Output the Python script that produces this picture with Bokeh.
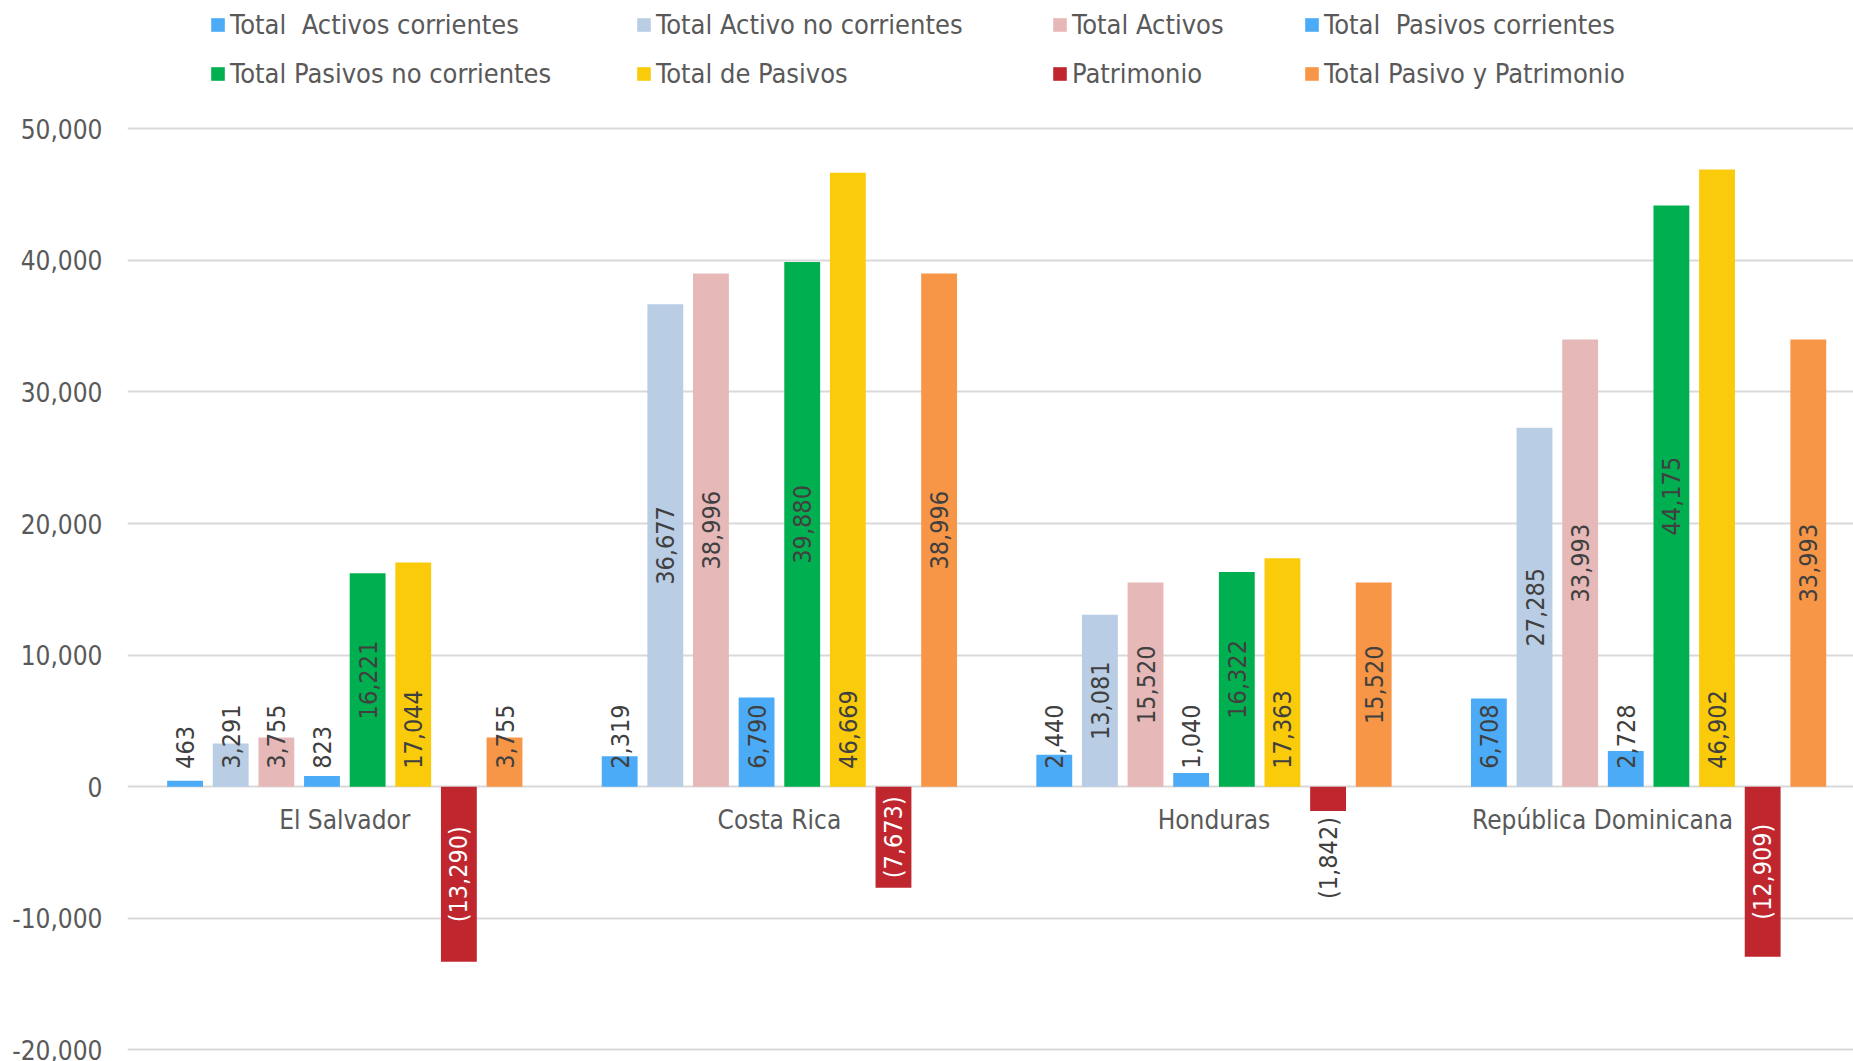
import math
from bokeh.plotting import figure
from bokeh.models import (Range1d, FixedTicker, NumeralTickFormatter, Legend,
                          LegendItem, ColumnDataSource)
from bokeh.core.properties import value
from bokeh.embed import file_html
from bokeh.resources import INLINE

# ---------------- data ----------------
countries = ["El Salvador", "Costa Rica", "Honduras", "República Dominicana"]
series_names = ["Total  Activos corrientes", "Total Activo no corrientes", "Total Activos",
                "Total  Pasivos corrientes", "Total Pasivos no corrientes", "Total de Pasivos",
                "Patrimonio", "Total Pasivo y Patrimonio"]
activos_corrientes = [463, 2319, 2440, 6708]
activo_no_corrientes = [3291, 36677, 13081, 27285]
total_activos = [3755, 38996, 15520, 33993]
pasivos_corrientes = [823, 6790, 1040, 2728]
pasivos_no_corrientes = [16221, 39880, 16322, 44175]
total_pasivos = [17044, 46669, 17363, 46902]
patrimonio = [-13290, -7673, -1842, -12909]
total_pasivo_patrimonio = [3755, 38996, 15520, 33993]
y_ticks = [-20000, -10000, 0, 10000, 20000, 30000, 40000, 50000]

series_values = [activos_corrientes, activo_no_corrientes, total_activos, pasivos_corrientes,
                 pasivos_no_corrientes, total_pasivos, patrimonio, total_pasivo_patrimonio]

# ---------------- style ----------------
colors = ["#4BABF7", "#B9CDE5", "#E6B8B7", "#4BABF7", "#00B050", "#F9CB0B", "#C0262E", "#F79646"]
FONT = "DejaVu Sans Condensed"
TEXT_GREY = "#595959"
LABEL_GREY = "#404040"
PITCH = 0.105
BAR_W = 0.0825
cat_label_shift = [0, 0, 0, -0.106]

W, H = 1853, 1061
p = figure(width=W, height=H, output_backend="svg", toolbar_location=None,
           x_range=Range1d(0, 3.9715), y_range=Range1d(-20874, 59749),
           min_border_left=127, min_border_right=0, min_border_top=0, min_border_bottom=0)
p.background_fill_color = "white"
p.border_fill_color = "white"
p.outline_line_color = None
p.xaxis.visible = False
p.xgrid.visible = False

p.yaxis.ticker = FixedTicker(ticks=y_ticks)
p.yaxis.formatter = NumeralTickFormatter(format="0,0")
p.yaxis.axis_line_color = None
p.yaxis.major_tick_line_color = None
p.yaxis.minor_tick_line_color = None
p.yaxis.major_label_standoff = 19
p.yaxis.major_label_text_font = FONT
p.yaxis.major_label_text_font_size = "26px"
p.yaxis.major_label_text_color = TEXT_GREY
p.ygrid.ticker = FixedTicker(ticks=y_ticks)
p.ygrid.grid_line_color = "#D9D9D9"
p.ygrid.grid_line_width = 2

renderers = []
lab_x, lab_y, lab_t, lab_align, lab_off, lab_col = [], [], [], [], [], []
for k, vals in enumerate(series_values):
    xs = [i + 0.5 + (k - 3.5) * PITCH for i in range(len(countries))]
    src = ColumnDataSource(dict(x=xs, top=vals))
    r = p.vbar(x="x", top="top", width=BAR_W, source=src,
               fill_color=colors[k], line_color=None)
    renderers.append(r)
    for x, v in zip(xs, vals):
        lab_x.append(x)
        if v >= 0:
            lab_t.append(f"{v:,}")
            if k == 5 or v < 10000:
                lab_y.append(0); lab_align.append("left"); lab_off.append(-18)
            else:
                lab_y.append(v / 2); lab_align.append("center"); lab_off.append(0)
            lab_col.append(LABEL_GREY)
        else:
            lab_t.append(f"({-v:,})")
            if -v >= 5000:
                lab_y.append(v / 2); lab_align.append("center"); lab_off.append(0)
                lab_col.append("white")
            else:
                lab_y.append(v); lab_align.append("right"); lab_off.append(6)
                lab_col.append(LABEL_GREY)

lsrc = ColumnDataSource(dict(x=lab_x, y=lab_y, text=lab_t, align=lab_align,
                             off=lab_off, col=lab_col))
p.text(x="x", y="y", text="text", source=lsrc, angle=math.pi / 2,
       text_align="align", text_baseline="middle", y_offset="off",
       text_color="col", text_font=value(FONT), text_font_size="25px")

# category labels
csrc = ColumnDataSource(dict(x=[i + 0.5 + s for i, s in enumerate(cat_label_shift)],
                             y=[0] * len(countries), text=countries))
p.text(x="x", y="y", text="text", source=csrc, y_offset=33,
       text_align="center", text_baseline="middle", text_color=TEXT_GREY,
       text_font=value(FONT), text_font_size="26px")

# legend: 2 rows x 4 columns, positioned like the original
col_x = [82, 508, 924, 1176]
row_y = [1021, 972]
for k, r in enumerate(renderers):
    row, col = divmod(k, 4)
    leg = Legend(items=[LegendItem(label=series_names[k], renderers=[r])],
                 location=(col_x[col], row_y[row]), orientation="horizontal",
                 padding=0, margin=0, border_line_color=None,
                 background_fill_alpha=0, glyph_width=17, glyph_height=17,
                 label_standoff=4, label_text_font=FONT,
                 label_text_font_size="27px", label_text_color=TEXT_GREY)
    p.add_layout(leg)

open("out.html", "w").write(file_html(p, INLINE))
